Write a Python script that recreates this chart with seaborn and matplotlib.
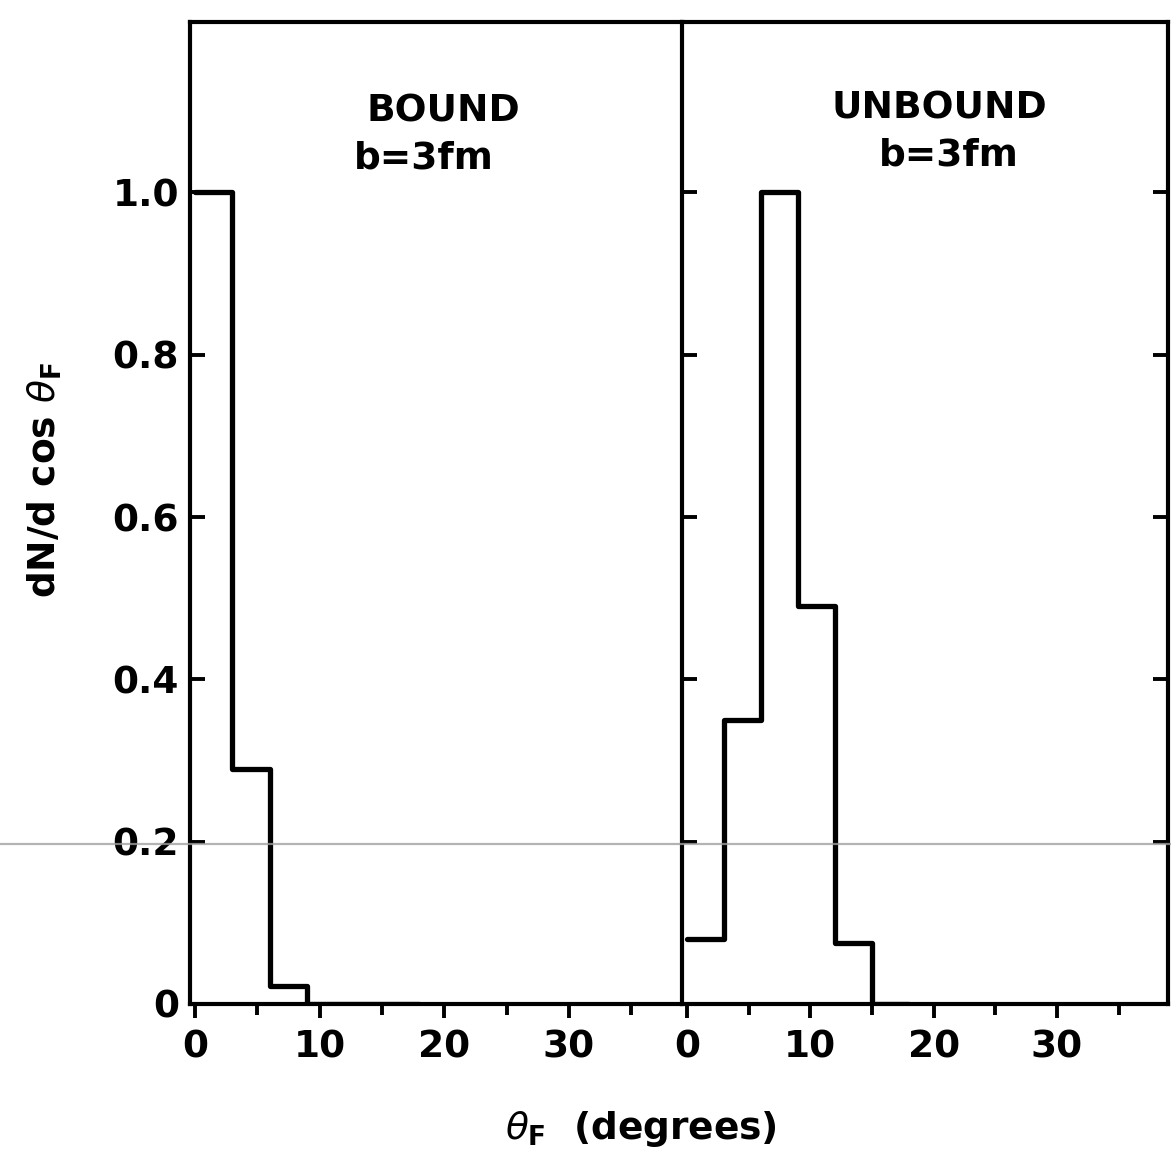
import numpy as np
import pandas as pd
import matplotlib
matplotlib.use("Agg")
import matplotlib.pyplot as plt
from matplotlib.lines import Line2D
from matplotlib.ticker import MultipleLocator
import seaborn as sns

# ---- data ----
bin_edges = [0, 3, 6, 9, 12, 15, 18]
bound_heights = [1.0, 0.29, 0.022, 0.0, 0.0, 0.0]
unbound_heights = [0.08, 0.35, 1.0, 0.49, 0.075, 0.0]
panel_titles = ["BOUND", "UNBOUND"]
panel_subtitle = "b=3fm"
y_ticks = [0, 0.2, 0.4, 0.6, 0.8, 1.0]
y_ticklabels = ["0", "0.2", "0.4", "0.6", "0.8", "1.0"]
x_major = [0, 10, 20, 30]
x_labels = ["0", "10", "20", "30"]

sns.set_theme(style="white")
plt.rcParams["font.family"] = ["DejaVu Sans"]
plt.rcParams["mathtext.fontset"] = "dejavusans"
for k in ["text.color", "axes.labelcolor", "xtick.color", "ytick.color",
          "axes.edgecolor"]:
    plt.rcParams[k] = "black"

centers = [(a + b) / 2 for a, b in zip(bin_edges[:-1], bin_edges[1:])]
df = pd.DataFrame({
    "theta": centers * 2,
    "w": bound_heights + unbound_heights,
    "panel": [panel_titles[0]] * len(centers) + [panel_titles[1]] * len(centers),
})

W, H = 1171, 1162
fig = plt.figure(figsize=(W / 100, H / 100), dpi=100)
bottom = 1 - 1004 / H
height = (1004 - 22) / H
ax1 = fig.add_axes([190 / W, bottom, 491 / W, height])
ax2 = fig.add_axes([682 / W, bottom, 486 / W, height])

FS = 27
lw_spine = 3.0
lw_hist = 3.8

for ax, name in zip([ax1, ax2], panel_titles):
    sub = df[df["panel"] == name]
    sns.histplot(data=sub, x="theta", weights="w", bins=bin_edges,
                 element="step", fill=False, color="black",
                 linewidth=lw_hist, ax=ax, legend=False)
    ax.set_xlim(-0.4, 39)
    ax.set_ylim(0, 1.21)
    ax.set_xlabel("")
    ax.set_ylabel("")
    for s in ax.spines.values():
        s.set_visible(True)
        s.set_color("black")
        s.set_linewidth(lw_spine)
    ax.set_xticks(x_major)
    ax.set_xticklabels(x_labels)
    ax.xaxis.set_minor_locator(MultipleLocator(5))
    ax.tick_params(axis="x", which="major", direction="out", length=10,
                   width=2.8, pad=8, labelsize=FS, bottom=True, top=False,
                   colors="black")
    ax.tick_params(axis="x", which="minor", direction="out", length=8,
                   width=2.8, bottom=True, top=False, colors="black")
    for lab in ax.get_xticklabels():
        lab.set_fontweight("bold")
    ax.set_yticks(y_ticks)
    ax.patch.set_alpha(0)

ax1.spines["right"].set_visible(False)
ax1.set_yticklabels(y_ticklabels)
ax1.tick_params(axis="y", direction="in", length=11, width=2.8, pad=8,
                labelsize=FS, left=True, right=False, colors="black")
for lab in ax1.get_yticklabels():
    lab.set_fontweight("bold")
ax2.set_yticklabels([])
ax2.tick_params(axis="y", direction="in", length=11, width=2.8,
                left=True, right=True, colors="black")

# panel labels
ax1.text(19.9, 1.10, panel_titles[0], ha="center", va="center",
         fontsize=FS, fontweight="bold", color="black")
ax1.text(18.4, 1.042, panel_subtitle, ha="center", va="center",
         fontsize=FS, fontweight="bold", color="black")
ax2.text(20.5, 1.103, panel_titles[1], ha="center", va="center",
         fontsize=FS, fontweight="bold", color="black")
ax2.text(21.2, 1.045, panel_subtitle, ha="center", va="center",
         fontsize=FS, fontweight="bold", color="black")

fig.text(0.038, 0.587, r"dN/d cos $\theta_{\mathbf{F}}$", rotation=90,
         ha="center", va="center", fontsize=FS, fontweight="bold",
         color="black")
fig.text(0.547, 0.028, r"$\theta_{\mathbf{F}}$  (degrees)", ha="center",
         va="center", fontsize=FS, fontweight="bold", color="black")

# faint scan line across the sheet
fig.canvas.draw()
y_disp = ax1.transData.transform((0, 0.2))[1]
y_fig = fig.transFigure.inverted().transform((0, y_disp))[1] - 0.002
fig.add_artist(Line2D([0, 1], [y_fig, y_fig], transform=fig.transFigure,
                      color="#a0a0a0", linewidth=1.6, alpha=0.8, zorder=5))

fig.savefig("out.png", dpi=100, facecolor="white")
